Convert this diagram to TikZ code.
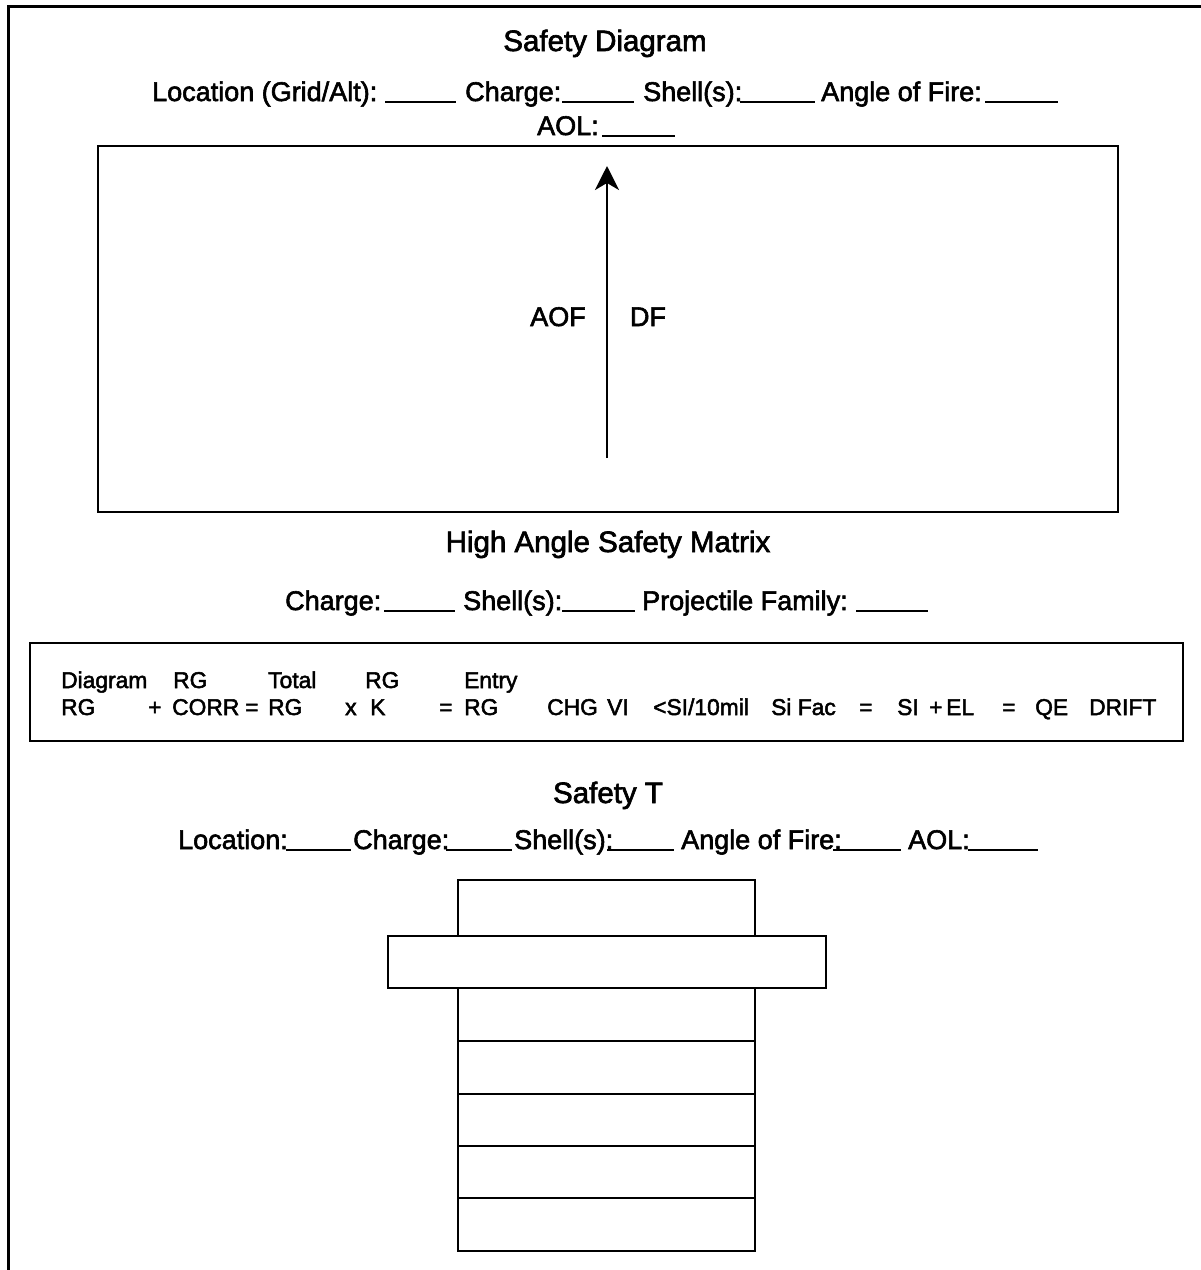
\documentclass[tikz,border=0pt]{standalone}
\usepackage{fontspec}
\setmainfont{Liberation Sans}[FakeBold=2.2]
\usetikzlibrary{arrows.meta}
\tikzset{
  hdr/.style={anchor=base west, inner sep=0pt, font=\fontsize{27}{32}\selectfont},
  ttl/.style={anchor=base, inner sep=0pt, font=\fontsize{29.5}{34}\selectfont},
  mx/.style={anchor=base west, inner sep=0pt, font=\fontsize{22.8}{27}\selectfont},
  blankline/.style={line width=2pt},
  boxline/.style={line width=2pt},
  frameline/.style={line width=3pt},
}
\begin{document}
\begin{tikzpicture}[x=1pt,y=-1pt]
\useasboundingbox (0,0) rectangle (1201,1270);
% outer frame (open at right and bottom)
\draw[frameline] (1215,6) -- (8,6) -- (8,1285);

% ---- Safety Diagram ----
\node[ttl] (t1) at (605,51) {Safety Diagram};
\node[hdr] (h1a) at (152,101) {Location (Grid/Alt):};
\node[hdr] (h1b) at (465,101) {Charge:};
\node[hdr] (h1c) at (643,101) {Shell(s):};
\node[hdr] (h1d) at (821,101) {Angle of Fire:};
\node[hdr] (h1e) at (537,135) {AOL:};
\foreach \a/\b/\y in {385/456/102, 562/634/102, 740/815/102, 985/1058/102, 602/675/136}
  \draw[blankline] (\a,\y) -- (\b,\y);

\draw[boxline] (98,146) rectangle (1118,512);
\coordinate (arrfrom) at (607,458);
\coordinate (arrto) at (607,166);
\draw[line width=2.5pt, -{Stealth[length=24pt,width=24pt,inset=7pt]}] (arrfrom) -- (arrto);
\node[hdr, anchor=base] (aof) at (558,326) {AOF};
\node[hdr, anchor=base] (df) at (648,326) {DF};

% ---- High Angle Safety Matrix ----
\node[ttl] (t2) at (608,552) {High Angle Safety Matrix};
\node[hdr] (h2a) at (285,610) {Charge:};
\node[hdr] (h2b) at (463,610) {Shell(s):};
\node[hdr] (h2c) at (642,610) {Projectile Family:};
\foreach \a/\b/\y in {384/455/611, 562/635/611, 856/928/611}
  \draw[blankline] (\a,\y) -- (\b,\y);

\draw[boxline] (30,643) rectangle (1183,741);
\node[mx] (m1) at (61,688) {Diagram};
\node[mx] (m2) at (173,688) {RG};
\node[mx] (m3) at (268,688) {Total};
\node[mx] (m4) at (365,688) {RG};
\node[mx] (m5) at (464,688) {Entry};
\node[mx] (r1) at (61,715) {RG};
\node[mx] (r2) at (148,715) {+};
\node[mx] (r3) at (172,715) {CORR};
\node[mx] (r4) at (245,715) {=};
\node[mx] (r5) at (268,715) {RG};
\node[mx] (r6) at (345,715) {x};
\node[mx] (r7) at (370,715) {K};
\node[mx] (r8) at (439,715) {=};
\node[mx] (r9) at (464,715) {RG};
\node[mx] (r10) at (547,715) {CHG};
\node[mx] (r11) at (607,715) {VI};
\node[mx] (r12) at (653,715) {<SI/10mil};
\node[mx] (r13) at (771,715) {Si Fac};
\node[mx] (r14) at (859,715) {=};
\node[mx] (r15) at (897,715) {SI};
\node[mx] (r16) at (929,715) {+};
\node[mx] (r17) at (946,715) {EL};
\node[mx] (r18) at (1002,715) {=};
\node[mx] (r19) at (1035,715) {QE};
\node[mx] (r20) at (1089,715) {DRIFT};

% ---- Safety T ----
\node[ttl] (t3) at (608,803) {Safety T};
\node[hdr] (h3a) at (178,849) {Location:};
\node[hdr] (h3b) at (353,849) {Charge:};
\node[hdr] (h3c) at (514,849) {Shell(s):};
\node[hdr] (h3d) at (681,849) {Angle of Fire:};
\node[hdr] (h3e) at (908,849) {AOL:};
\foreach \a/\b/\y in {286/351/850, 446/512/850, 607/674/850, 833/901/850, 968/1038/850}
  \draw[blankline] (\a,\y) -- (\b,\y);

\draw[boxline] (458,880) rectangle (755,936);
\draw[boxline] (388,936) rectangle (826,988);
\foreach \t/\b in {988/1041, 1041/1094, 1094/1146, 1146/1198, 1198/1251}
  \draw[boxline] (458,\t) rectangle (755,\b);
\end{tikzpicture}
\end{document}
